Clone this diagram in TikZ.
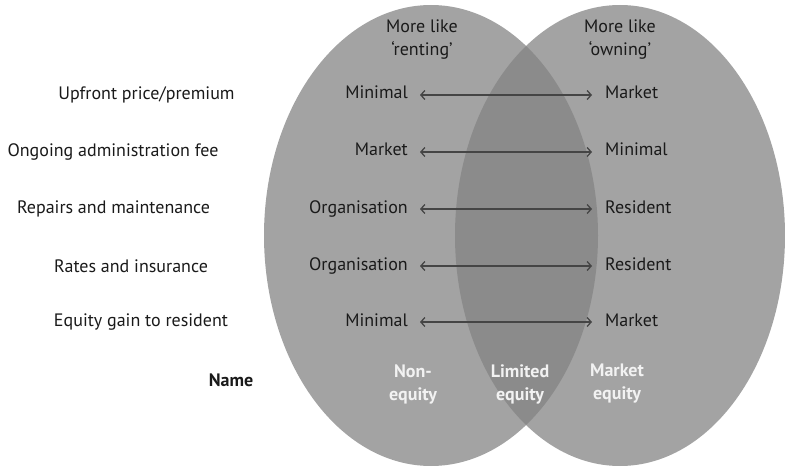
\documentclass[tikz,border=0pt]{standalone}
\usepackage{fontspec}
\setmainfont{PT Sans}
\usetikzlibrary{arrows.meta}
\definecolor{ellgray}{HTML}{A3A3A3}
\definecolor{ovlgray}{HTML}{8B8B8B}
\definecolor{txtdark}{HTML}{1A1A1A}
\definecolor{arrgray}{HTML}{454545}
\definecolor{lbllight}{HTML}{F2F2F2}
\tikzset{
  ell/.style={fill=ellgray},
  rowlabel/.style={text=txtdark, inner sep=0pt, font=\fontsize{18}{21}\selectfont},
  val/.style={text=txtdark, inner sep=0pt, text height=12pt, text depth=4pt, font=\fontsize{18}{21}\selectfont},
  head/.style={text=txtdark, inner sep=0pt, align=center, font=\fontsize{18}{22.5}\selectfont},
  kind/.style={text=lbllight, inner sep=0pt, align=center, font=\bfseries\fontsize{18}{23}\selectfont},
  twoway/.style={draw=arrgray, line width=1.3pt, {Straight Barb[length=4pt,width=9pt]}-{Straight Barb[length=4pt,width=9pt]}, shorten <=12pt, shorten >=13pt}
}
\begin{document}
\begin{tikzpicture}[x=1pt,y=-1pt]
\useasboundingbox (0,0) rectangle (785,468);
% ellipses
\fill[ell] (431,235.5) ellipse [x radius=167, y radius=230.5];
\fill[ell] (620,235.5) ellipse [x radius=165, y radius=230.5];
\begin{scope}
  \clip (431,235.5) ellipse [x radius=167, y radius=230.5];
  \fill[ovlgray] (620,235.5) ellipse [x radius=165, y radius=230.5];
\end{scope}
% headers
\node[head] (hrent) at (422,39.5) {More like\\‘renting’};
\node[head] (hown) at (620,39.5) {More like\\‘owning’};
% row labels
\node[rowlabel] (r1) at (146.5,95) {Upfront price/premium};
\node[rowlabel] (r2) at (113,152) {Ongoing administration fee};
\node[rowlabel] (r3) at (113.5,209) {Repairs and maintenance};
\node[rowlabel] (r4) at (131,266) {Rates and insurance};
\node[rowlabel] (r5) at (141,322) {Equity gain to resident};
\node[rowlabel, font=\bfseries\fontsize{18}{21}\selectfont] (rn) at (231,380) {Name};
% left values
\node[val, anchor=east] (l1) at (408,95) {Minimal};
\node[val, anchor=east] (l2) at (408,152) {Market};
\node[val, anchor=east] (l3) at (408,209) {Organisation};
\node[val, anchor=east] (l4) at (408,266) {Organisation};
\node[val, anchor=east] (l5) at (408,322) {Minimal};
% right values
\node[val, anchor=west] (v1) at (605,95) {Market};
\node[val, anchor=west] (v2) at (605,152) {Minimal};
\node[val, anchor=west] (v3) at (605,209) {Resident};
\node[val, anchor=west] (v4) at (605,266) {Resident};
\node[val, anchor=west] (v5) at (605,322) {Market};
% arrows
\draw[twoway] (l1) -- (v1);
\draw[twoway] (l2) -- (v2);
\draw[twoway] (l3) -- (v3);
\draw[twoway] (l4) -- (v4);
\draw[twoway] (l5) -- (v5);
% bottom labels
\node[kind] (k1) at (413,384) {Non-\\equity};
\node[kind] (k2) at (520,384) {Limited\\equity};
\node[kind] (k3) at (617,384) {Market\\equity};
\end{tikzpicture}
\end{document}
